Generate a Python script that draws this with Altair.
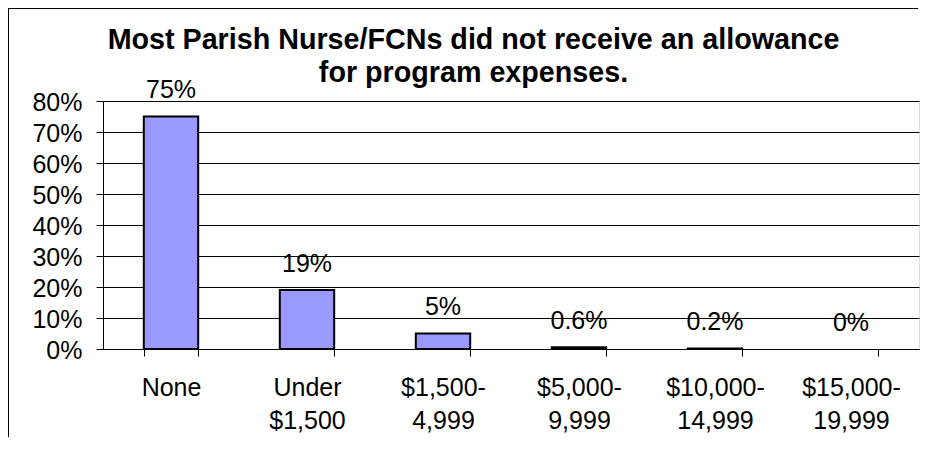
import altair as alt
import pandas as pd

categories = ["None", "Under $1,500", "$1,500-4,999", "$5,000-9,999", "$10,000-14,999", "$15,000-19,999"]
values = [0.75, 0.19, 0.05, 0.006, 0.002, 0.0]
value_labels = ["75%", "19%", "5%", "0.6%", "0.2%", "0%"]
y_ticks = [0, 0.1, 0.2, 0.3, 0.4, 0.5, 0.6, 0.7, 0.8]
title_lines = ["Most Parish Nurse/FCNs did not receive an allowance", "for program expenses."]

df = pd.DataFrame({"category": categories, "value": values, "label": value_labels})

FONT = "Liberation Sans"
W, H = 816, 248
PAD = {"left": 95, "top": 93, "right": 3, "bottom": 93}

label_expr = (
    "indexof(datum.label, '-') > 0 ? "
    "[substring(datum.label, 0, indexof(datum.label, '-') + 1), "
    "substring(datum.label, indexof(datum.label, '-') + 1)] : "
    "split(datum.label, ' ')"
)

x_enc = alt.X(
    "category:N",
    sort=categories,
    scale=alt.Scale(paddingInner=0.6, paddingOuter=0.3),
    axis=alt.Axis(
        title=None,
        labelAngle=0,
        labelExpr=label_expr,
        labelFont=FONT,
        labelFontSize=25,
        labelColor="black",
        labelLineHeight=33,
        labelPadding=19,
        labelOverlap=False,
        tickSize=7,
        tickColor="black",
        tickWidth=1,
        tickBand="extent",
        domainColor="black",
        domainWidth=1,
        grid=False,
    ),
)

y_enc = alt.Y(
    "value:Q",
    scale=alt.Scale(domain=[0, 0.8], nice=False),
    axis=alt.Axis(
        title=None,
        values=y_ticks,
        tickCount=9,
        format=".0%",
        labelFont=FONT,
        labelFontSize=25,
        labelColor="black",
        labelPadding=14,
        labelOffset=1,
        labelOverlap=False,
        labelFlush=False,
        tickSize=7,
        tickColor="black",
        tickWidth=1,
        domainColor="black",
        domainWidth=1,
        grid=True,
        gridColor="black",
        gridWidth=1,
        gridOpacity=1,
    ),
)

base = alt.Chart(df)

bars = base.mark_bar(fill="#9999FF", stroke="black").encode(
    x=x_enc,
    y=y_enc,
    strokeWidth=alt.condition("datum.value > 0", alt.value(2), alt.value(0)),
)

texts = base.mark_text(
    font=FONT, fontSize=25, color="black", baseline="alphabetic", dy=-18.5
).encode(
    x=x_enc,
    y=y_enc,
    text="label:N",
)

# outer chart border (only its top and left edges are in view)
frame_data = alt.Data(values=[{"b": 1}])
border_top = alt.Chart(frame_data).mark_rect(fill="black", strokeWidth=0).encode(
    x=alt.value(-PAD["left"]),
    x2=alt.value(W - 1),
    y=alt.value(-PAD["top"]),
    y2=alt.value(-PAD["top"] + 1),
)
border_left = alt.Chart(frame_data).mark_rect(fill="black", strokeWidth=0).encode(
    x=alt.value(-PAD["left"]),
    x2=alt.value(-PAD["left"] + 1),
    y=alt.value(-PAD["top"]),
    y2=alt.value(H + 88),
)

chart = alt.layer(border_top, border_left, bars, texts).properties(
    width=W,
    height=H,
    autosize=alt.AutoSizeParams(type="none"),
    padding=PAD,
    title=alt.TitleParams(
        text=title_lines,
        font=FONT,
        fontSize=28.7,
        fontWeight="bold",
        color="black",
        anchor="middle",
        frame="group",
        lineHeight=33,
        dx=-37.5,
        dy=80,
        offset=0,
    ),
).configure_view(
    stroke="#808080", strokeWidth=2
).configure(
    background="white"
)

chart.save("out.html", embed_options={"renderer": "svg", "actions": False})
